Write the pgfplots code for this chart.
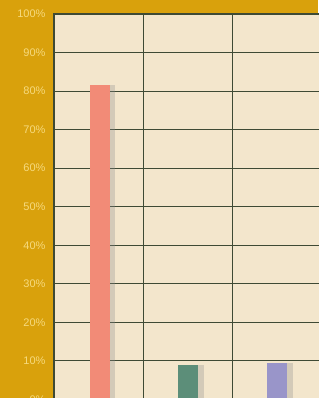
\documentclass[border=0pt]{standalone}
\usepackage{pgfplots}
\pgfplotsset{compat=1.18}
\usepackage{fontspec}
\setmainfont{Liberation Sans}
\definecolor{goldbg}{HTML}{D9A10C}
\definecolor{plotbg}{HTML}{F3E6CC}
\definecolor{gridc}{HTML}{3E4A34}
\definecolor{barred}{HTML}{F28B77}
\definecolor{bargreen}{HTML}{5C8E79}
\definecolor{barpurple}{HTML}{9995C9}
\definecolor{labc}{HTML}{F6DA7E}
\begin{document}
\begin{tikzpicture}[x=1pt,y=1pt]
\fill[goldbg] (0,0) rectangle (318,398);
\begin{axis}[
  at={(54pt,-1.5pt)}, anchor=south west,
  scale only axis, width=267pt, height=385.5pt,
  xmin=0.5, xmax=3.5, ymin=0, ymax=100,
  axis background/.style={fill=plotbg},
  xtick={0.5,1.5,2.5,3.5}, xticklabels={},
  ytick={0,10,...,100},
  yticklabel={\pgfmathprintnumber{\tick}\%},
  /pgf/number format/assume math mode=true,
  yticklabel style={font=\fontsize{11}{12}\selectfont, text=labc, xshift=-5pt},
  major tick length=0pt,
  xmajorgrids, ymajorgrids,
  grid style={gridc, line width=1pt},
  axis line style={gridc, line width=1.2pt},
  ybar, bar width=20pt,
  clip=true,
]
\addplot[fill=black!45, draw=none, opacity=0.3, bar shift=6pt] coordinates {(1,81.6)};
\addplot[fill=black!45, draw=none, opacity=0.3, bar shift=6pt] coordinates {(2,8.9)};
\addplot[fill=black!45, draw=none, opacity=0.3, bar shift=6pt] coordinates {(3,9.4)};
\addplot[fill=barred, draw=none, bar shift=1pt] coordinates {(1,81.6)};
\addplot[fill=bargreen, draw=none, bar shift=0pt] coordinates {(2,8.9)};
\addplot[fill=barpurple, draw=none, bar shift=0pt] coordinates {(3,9.4)};
\end{axis}
\pgfresetboundingbox
\useasboundingbox (0,0) rectangle (318,398);
\end{tikzpicture}
\end{document}
